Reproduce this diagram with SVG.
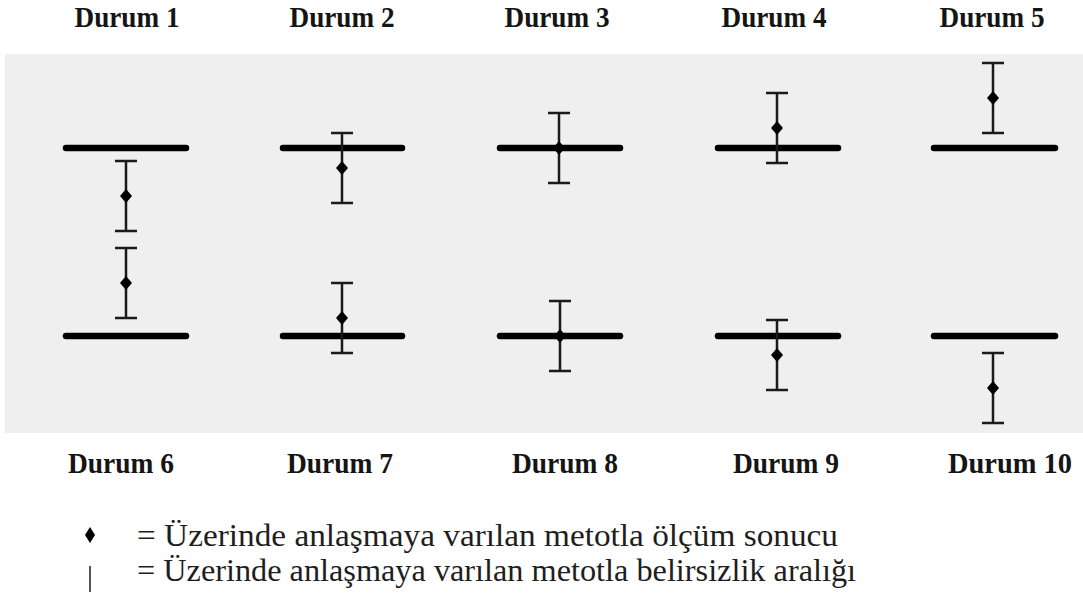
<svg xmlns="http://www.w3.org/2000/svg" width="1083" height="598" viewBox="0 0 1083 598">
<style>
.lbl{font-family:'Liberation Serif',Tinos,'Times New Roman',Times,'Nimbus Roman',serif;font-weight:700;font-size:30px;fill:#151515;text-anchor:middle}
.leg{font-family:'Liberation Serif',Tinos,'Times New Roman',Times,'Nimbus Roman',serif;font-size:32px;fill:#1e1e1e}
.ref{stroke:#000;stroke-width:6.5;stroke-linecap:round}
.bar{stroke:#1a1a1a;stroke-width:2.5;fill:none}
.dia{fill:#000}
</style>
<defs>
<g id="eb">
<path class="bar" d="M0,-35 V35 M-11,-35 H11 M-11,35 H11"/>
<path class="dia" d="M0,-7 L6,0 L0,7 L-6,0 Z"/>
</g>
</defs>
<rect x="0" y="0" width="1083" height="598" fill="#fff"/>
<rect x="5" y="54" width="1078" height="379" fill="#efefef"/>
<g id="labels-top">
<text class="lbl" x="127" y="27" textLength="105" lengthAdjust="spacingAndGlyphs">Durum 1</text>
<text class="lbl" x="342" y="27" textLength="105" lengthAdjust="spacingAndGlyphs">Durum 2</text>
<text class="lbl" x="557" y="27" textLength="105" lengthAdjust="spacingAndGlyphs">Durum 3</text>
<text class="lbl" x="774" y="27" textLength="105" lengthAdjust="spacingAndGlyphs">Durum 4</text>
<text class="lbl" x="992" y="27" textLength="105" lengthAdjust="spacingAndGlyphs">Durum 5</text>
</g>
<g id="labels-bottom">
<text class="lbl" x="121" y="473" textLength="106" lengthAdjust="spacingAndGlyphs">Durum 6</text>
<text class="lbl" x="340" y="473" textLength="106" lengthAdjust="spacingAndGlyphs">Durum 7</text>
<text class="lbl" x="565" y="473" textLength="106" lengthAdjust="spacingAndGlyphs">Durum 8</text>
<text class="lbl" x="786" y="473" textLength="106" lengthAdjust="spacingAndGlyphs">Durum 9</text>
<text class="lbl" x="1010" y="473" textLength="124" lengthAdjust="spacingAndGlyphs">Durum 10</text>
</g>
<g id="reference-lines">
<line class="ref" x1="66" y1="148" x2="186" y2="148"/>
<line class="ref" x1="283" y1="148" x2="402" y2="148"/>
<line class="ref" x1="500" y1="148" x2="620" y2="148"/>
<line class="ref" x1="718" y1="148" x2="838" y2="148"/>
<line class="ref" x1="934" y1="148" x2="1055" y2="148"/>
<line class="ref" x1="66" y1="336" x2="186" y2="336"/>
<line class="ref" x1="283" y1="336" x2="402" y2="336"/>
<line class="ref" x1="500" y1="336" x2="620" y2="336"/>
<line class="ref" x1="718" y1="336" x2="838" y2="336"/>
<line class="ref" x1="934" y1="336" x2="1055" y2="336"/>
</g>
<g id="durum1"><use href="#eb" x="126" y="196"/></g>
<g id="durum2"><use href="#eb" x="342" y="168"/></g>
<g id="durum3"><use href="#eb" x="559" y="148"/></g>
<g id="durum4"><use href="#eb" x="777" y="128"/></g>
<g id="durum5"><use href="#eb" x="993" y="98"/></g>
<g id="durum6"><use href="#eb" x="126" y="283"/></g>
<g id="durum7"><use href="#eb" x="342" y="318"/></g>
<g id="durum8"><use href="#eb" x="560" y="336"/></g>
<g id="durum9"><use href="#eb" x="777" y="355"/></g>
<g id="durum10"><use href="#eb" x="993" y="388"/></g>
<g id="legend">
<path class="dia" d="M90,527 L95,535 L90,543 L85,535 Z"/>
<line x1="90" y1="566" x2="90" y2="592" stroke="#555" stroke-width="2"/>
<text class="leg" x="137" y="546" textLength="701" lengthAdjust="spacingAndGlyphs">= Üzerinde anlaşmaya varılan metotla ölçüm sonucu</text>
<text class="leg" x="137" y="581" textLength="719" lengthAdjust="spacingAndGlyphs">= Üzerinde anlaşmaya varılan metotla belirsizlik aralığı</text>
</g>
</svg>
